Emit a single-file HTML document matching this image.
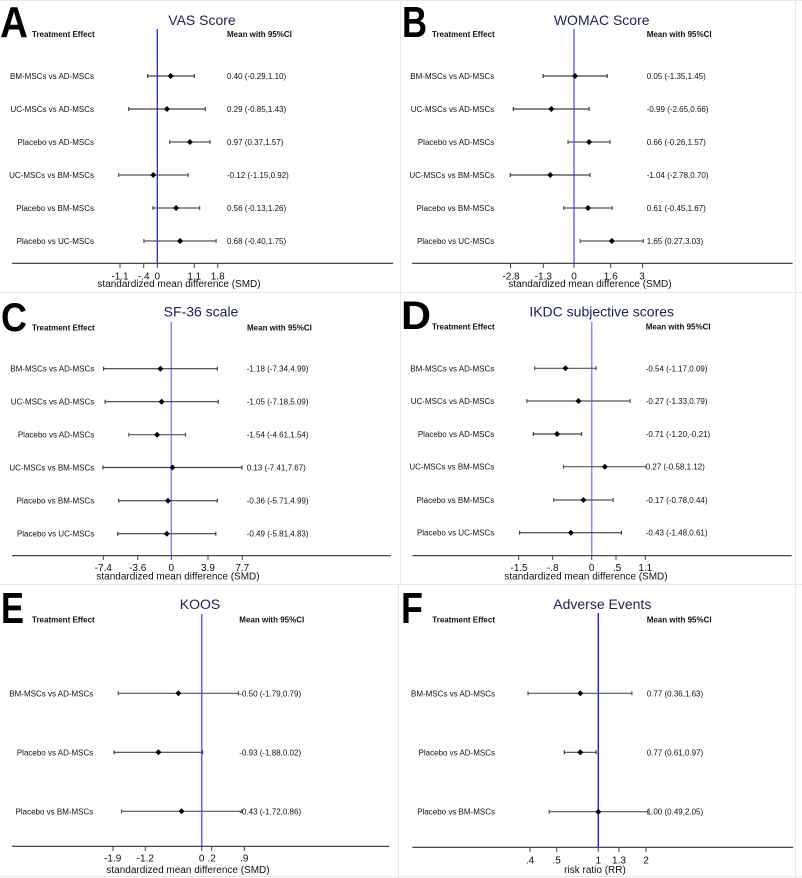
<!DOCTYPE html>
<html>
<head>
<meta charset="utf-8">
<style>
  html,body{margin:0;padding:0;background:#fff;}
  svg{display:block;}
  text{font-family:"Liberation Sans",Arial,sans-serif;}
  .big{font-weight:bold;fill:#000;}
  .ttl{font-size:14px;fill:#1b2152;text-anchor:middle;}
  .hdr{font-size:8px;font-weight:bold;fill:#111;}
  .lbl{font-size:8px;fill:#111;text-anchor:end;}
  .val{font-size:8px;fill:#111;}
  .tk{font-size:10px;fill:#111;text-anchor:middle;}
  .ax{font-size:10px;fill:#111;text-anchor:middle;}
  .axis{stroke:#333;stroke-width:1.2;}
  .tick{stroke:#444;stroke-width:1;}
  .ci{stroke:#555;stroke-width:1.2;fill:none;}
  .cim{stroke:#4d3a3e;stroke-width:1.2;fill:none;}
  .sep{stroke:#e3eaec;stroke-width:1;}
</style>
</head>
<body>
<svg width="802" height="878" viewBox="0 0 802 878" xmlns="http://www.w3.org/2000/svg">
<rect x="0" y="0" width="802" height="878" fill="#fff"/>

<!-- separators -->
<line class="sep" x1="0" y1="0.5" x2="802" y2="0.5"/>
<line class="sep" x1="400.5" y1="0" x2="400.5" y2="585"/>
<line class="sep" x1="398.5" y1="585" x2="398.5" y2="878"/>
<line class="sep" x1="0" y1="292.5" x2="802" y2="292.5"/>
<line class="sep" x1="0" y1="584.5" x2="802" y2="584.5"/>
<line class="sep" x1="0" y1="876.5" x2="802" y2="876.5"/>
<line class="sep" x1="795.5" y1="0" x2="795.5" y2="878"/>

<!-- ================= PANEL A ================= -->
<text class="big" x="0" y="37" font-size="44" textLength="28" lengthAdjust="spacingAndGlyphs">A</text>
<text class="ttl" x="202" y="25">VAS Score</text>
<text class="hdr" x="32" y="37">Treatment Effect</text>
<text class="hdr" x="227" y="37">Mean with 95%CI</text>
<line x1="157.3" y1="29" x2="157.3" y2="263.3" stroke="#2424ee" stroke-width="1.3"/>
<g class="lbl">
<text class="lbl" x="94" y="79">BM-MSCs vs AD-MSCs</text>
<text class="lbl" x="94" y="112">UC-MSCs vs AD-MSCs</text>
<text class="lbl" x="94" y="145">Placebo vs AD-MSCs</text>
<text class="lbl" x="94" y="178">UC-MSCs vs BM-MSCs</text>
<text class="lbl" x="94" y="211">Placebo vs BM-MSCs</text>
<text class="lbl" x="94" y="244">Placebo vs UC-MSCs</text>
</g>
<text class="val" x="227" y="79">0.40 (-0.29,1.10)</text>
<text class="val" x="227" y="112">0.29 (-0.85,1.43)</text>
<text class="val" x="227" y="145">0.97 (0.37,1.57)</text>
<text class="val" x="227" y="178">-0.12 (-1.15,0.92)</text>
<text class="val" x="227" y="211">0.56 (-0.13,1.26)</text>
<text class="val" x="227" y="244">0.68 (-0.40,1.75)</text>
<g class="ci">
<path class="cim" d="M147.6,76H194.3M147.6,74V78M194.3,74V78"/>
<path class="cim" d="M128.7,109H205.3M128.7,107V111M205.3,107V111"/>
<path d="M169.7,142H210.1M169.7,140V144M210.1,140V144"/>
<path d="M118.7,175H188.2M118.7,173V177M188.2,173V177"/>
<path d="M152.9,208H199.6M152.9,206V210M199.6,206V210"/>
<path d="M143.9,241H216.1M143.9,239V243M216.1,239V243"/>
</g>
<g fill="#000">
<path d="M170.7,73L173.7,76L170.7,79L167.7,76Z"/>
<path d="M167,106L170,109L167,112L164,109Z"/>
<path d="M189.9,139L192.9,142L189.9,145L186.9,142Z"/>
<path d="M153.3,172L156.3,175L153.3,178L150.3,175Z"/>
<path d="M176.1,205L179.1,208L176.1,211L173.1,208Z"/>
<path d="M180.1,238L183.1,241L180.1,244L177.1,241Z"/>
</g>
<line class="axis" x1="12" y1="263.3" x2="393" y2="263.3"/>
<path class="tick" d="M120,263.3V268M143.7,263.3V268M157.3,263.3V268M194.3,263.3V268M217.7,263.3V268"/>
<text class="tk" x="120" y="279.3">-1.1</text>
<text class="tk" x="143.7" y="279.3">-.4</text>
<text class="tk" x="157.3" y="279.3">0</text>
<text class="tk" x="194.3" y="279.3">1.1</text>
<text class="tk" x="217.7" y="279.3">1.8</text>
<text class="ax" x="179" y="287">standardized mean difference (SMD)</text>

<!-- ================= PANEL B ================= -->
<text class="big" x="402" y="37" font-size="44" textLength="25" lengthAdjust="spacingAndGlyphs">B</text>
<text class="ttl" x="601.7" y="25">WOMAC Score</text>
<text class="hdr" x="432" y="37">Treatment Effect</text>
<text class="hdr" x="646.7" y="37">Mean with 95%CI</text>
<line x1="574" y1="29" x2="574" y2="263.3" stroke="#6b6bff" stroke-width="1.5"/>
<text class="lbl" x="494.3" y="79">BM-MSCs vs AD-MSCs</text>
<text class="lbl" x="494.3" y="112">UC-MSCs vs AD-MSCs</text>
<text class="lbl" x="494.3" y="145">Placebo vs AD-MSCs</text>
<text class="lbl" x="494.3" y="178">UC-MSCs vs BM-MSCs</text>
<text class="lbl" x="494.3" y="211">Placebo vs BM-MSCs</text>
<text class="lbl" x="494.3" y="244">Placebo vs UC-MSCs</text>
<text class="val" x="646.7" y="79">0.05 (-1.35,1.45)</text>
<text class="val" x="646.7" y="112">-0.99 (-2.65,0.66)</text>
<text class="val" x="646.7" y="145">0.66 (-0.26,1.57)</text>
<text class="val" x="646.7" y="178">-1.04 (-2.78,0.70)</text>
<text class="val" x="646.7" y="211">0.61 (-0.45,1.67)</text>
<text class="val" x="646.7" y="244">1.65 (0.27,3.03)</text>
<g class="ci">
<path class="cim" d="M543.1,76H607.2M543.1,74V78M607.2,74V78"/>
<path class="cim" d="M513.3,109H589.1M513.3,107V111M589.1,107V111"/>
<path d="M568,142H610M568,140V144M610,140V144"/>
<path class="cim" d="M510.3,175H590M510.3,173V177M590,173V177"/>
<path d="M563.7,208H612.2M563.7,206V210M612.2,206V210"/>
<path d="M580.2,241H643.4M580.2,239V243M643.4,239V243"/>
</g>
<g fill="#000">
<path d="M575.1,73L578.1,76L575.1,79L572.1,76Z"/>
<path d="M551.3,106L554.3,109L551.3,112L548.3,109Z"/>
<path d="M589.1,139L592.1,142L589.1,145L586.1,142Z"/>
<path d="M550.2,172L553.2,175L550.2,178L547.2,175Z"/>
<path d="M588,205L591,208L588,211L585,208Z"/>
<path d="M611.8,238L614.8,241L611.8,244L608.8,241Z"/>
</g>
<line class="axis" x1="412" y1="263.3" x2="792.7" y2="263.3"/>
<path class="tick" d="M510.5,263.3V268M543.3,263.3V268M574,263.3V268M610.7,263.3V268M642.5,263.3V268"/>
<text class="tk" x="511" y="279.3">-2.8</text>
<text class="tk" x="543.3" y="279.3">-1.3</text>
<text class="tk" x="574" y="279.3">0</text>
<text class="tk" x="610.7" y="279.3">1.6</text>
<text class="tk" x="642" y="279.3">3</text>
<text class="ax" x="590" y="287">standardized mean difference (SMD)</text>

<!-- ================= PANEL C ================= -->
<text class="big" x="1" y="331" font-size="40" textLength="26" lengthAdjust="spacingAndGlyphs">C</text>
<text class="ttl" x="201" y="316.7">SF-36 scale</text>
<text class="hdr" x="32" y="330.3">Treatment Effect</text>
<text class="hdr" x="247" y="330.3">Mean with 95%CI</text>
<line x1="171.3" y1="321.7" x2="171.3" y2="555.7" stroke="#7a7aff" stroke-width="1.3"/>
<text class="lbl" x="94.3" y="371.7">BM-MSCs vs AD-MSCs</text>
<text class="lbl" x="94.3" y="404.7">UC-MSCs vs AD-MSCs</text>
<text class="lbl" x="94.3" y="437.7">Placebo vs AD-MSCs</text>
<text class="lbl" x="94.3" y="470.5">UC-MSCs vs BM-MSCs</text>
<text class="lbl" x="94.3" y="503.7">Placebo vs BM-MSCs</text>
<text class="lbl" x="94.3" y="536.7">Placebo vs UC-MSCs</text>
<text class="val" x="246.7" y="371.7">-1.18 (-7.34,4.99)</text>
<text class="val" x="246.7" y="404.7">-1.05 (-7.18,5.09)</text>
<text class="val" x="246.7" y="437.7">-1.54 (-4.61,1.54)</text>
<text class="val" x="246.7" y="470.5">0.13 (-7.41,7.67)</text>
<text class="val" x="246.7" y="503.7">-0.36 (-5.71,4.99)</text>
<text class="val" x="246.7" y="536.7">-0.49 (-5.81,4.83)</text>
<g class="cim">
<path d="M103.6,368.7H217.3M103.6,366.7V370.7M217.3,366.7V370.7"/>
<path d="M105.1,401.7H218.2M105.1,399.7V403.7M218.2,399.7V403.7"/>
<path class="ci" d="M128.8,434.7H185.5M128.8,432.7V436.7M185.5,432.7V436.7"/>
<path d="M103,467.5H242M103,465.5V469.5M242,465.5V469.5"/>
<path d="M118.7,500.7H217.3M118.7,498.7V502.7M217.3,498.7V502.7"/>
<path d="M117.7,533.7H215.8M117.7,531.7V535.7M215.8,531.7V535.7"/>
</g>
<g fill="#000">
<path d="M160.4,365.7L163.4,368.7L160.4,371.7L157.4,368.7Z"/>
<path d="M161.6,398.7L164.6,401.7L161.6,404.7L158.6,401.7Z"/>
<path d="M157.1,431.7L160.1,434.7L157.1,437.7L154.1,434.7Z"/>
<path d="M172.5,464.5L175.5,467.5L172.5,470.5L169.5,467.5Z"/>
<path d="M168,497.7L171,500.7L168,503.7L165,500.7Z"/>
<path d="M166.8,530.7L169.8,533.7L166.8,536.7L163.8,533.7Z"/>
</g>
<line class="axis" x1="12" y1="555.7" x2="390.7" y2="555.7"/>
<path class="tick" d="M103.3,555.7V560M137.7,555.7V560M171.3,555.7V560M208,555.7V560M242.3,555.7V560"/>
<text class="tk" x="103.3" y="571">-7.4</text>
<text class="tk" x="137.7" y="571">-3.6</text>
<text class="tk" x="171.3" y="571">0</text>
<text class="tk" x="208" y="571">3.9</text>
<text class="tk" x="242.3" y="571">7.7</text>
<text class="ax" x="178" y="579.5">standardized mean difference (SMD)</text>

<!-- ================= PANEL D ================= -->
<text class="big" x="401" y="329" font-size="40" textLength="30" lengthAdjust="spacingAndGlyphs">D</text>
<text class="ttl" x="601.7" y="316.7">IKDC subjective scores</text>
<text class="hdr" x="432" y="329.7">Treatment Effect</text>
<text class="hdr" x="645.7" y="329.7">Mean with 95%CI</text>
<line x1="591.7" y1="321.7" x2="591.7" y2="555.7" stroke="#8a8aff" stroke-width="1.5"/>
<text class="lbl" x="494.3" y="371.3">BM-MSCs vs AD-MSCs</text>
<text class="lbl" x="494.3" y="404">UC-MSCs vs AD-MSCs</text>
<text class="lbl" x="494.3" y="437">Placebo vs AD-MSCs</text>
<text class="lbl" x="494.3" y="469.7">UC-MSCs vs BM-MSCs</text>
<text class="lbl" x="494.3" y="503">Placebo vs BM-MSCs</text>
<text class="lbl" x="494.3" y="535.7">Placebo vs UC-MSCs</text>
<text class="val" x="645.7" y="371.3">-0.54 (-1.17,0.09)</text>
<text class="val" x="645.7" y="404">-0.27 (-1.33,0.79)</text>
<text class="val" x="645.7" y="437">-0.71 (-1.20,-0.21)</text>
<text class="val" x="645.7" y="469.7">0.27 (-0.58,1.12)</text>
<text class="val" x="645.7" y="503">-0.17 (-0.78,0.44)</text>
<text class="val" x="645.7" y="535.7">-0.43 (-1.48,0.61)</text>
<g class="ci">
<path d="M534.7,368.3H596.1M534.7,366.3V370.3M596.1,366.3V370.3"/>
<path d="M526.9,401H630.2M526.9,399V403M630.2,399V403"/>
<path class="cim" d="M533.3,434H581.5M533.3,432V436M581.5,432V436"/>
<path d="M563.5,466.7H646.2M563.5,464.7V468.7M646.2,464.7V468.7"/>
<path d="M553.7,500H613.1M553.7,498V502M613.1,498V502"/>
<path class="cim" d="M519.6,532.7H621.4M519.6,530.7V534.7M621.4,530.7V534.7"/>
</g>
<g fill="#000">
<path d="M565.4,365.3L568.4,368.3L565.4,371.3L562.4,368.3Z"/>
<path d="M578.5,398L581.5,401L578.5,404L575.5,401Z"/>
<path d="M557.1,431L560.1,434L557.1,437L554.1,434Z"/>
<path d="M604.8,463.7L607.8,466.7L604.8,469.7L601.8,466.7Z"/>
<path d="M583.4,497L586.4,500L583.4,503L580.4,500Z"/>
<path d="M570.8,529.7L573.8,532.7L570.8,535.7L567.8,532.7Z"/>
</g>
<line class="axis" x1="412.3" y1="555.7" x2="791.7" y2="555.7"/>
<path class="tick" d="M518.7,555.7V560M552.7,555.7V560M591.7,555.7V560M616,555.7V560M645.3,555.7V560"/>
<text class="tk" x="519" y="571">-1.5</text>
<text class="tk" x="552.7" y="571">-.8</text>
<text class="tk" x="591.7" y="571">0</text>
<text class="tk" x="617" y="571">.5</text>
<text class="tk" x="645.3" y="571">1.1</text>
<text class="ax" x="586" y="579.5">standardized mean difference (SMD)</text>

<!-- ================= PANEL E ================= -->
<text class="big" x="1" y="623" font-size="44" textLength="23" lengthAdjust="spacingAndGlyphs">E</text>
<text class="ttl" x="200" y="609">KOOS</text>
<text class="hdr" x="32" y="622.7">Treatment Effect</text>
<text class="hdr" x="239.3" y="622.7">Mean with 95%CI</text>
<line x1="201.7" y1="614" x2="201.7" y2="846.3" stroke="#6b5bff" stroke-width="1.5"/>
<text class="lbl" x="93.3" y="696.3">BM-MSCs vs AD-MSCs</text>
<text class="lbl" x="93.3" y="755.3">Placebo vs AD-MSCs</text>
<text class="lbl" x="93.3" y="814.3">Placebo vs BM-MSCs</text>
<text class="val" x="239.3" y="696.3">-0.50 (-1.79,0.79)</text>
<text class="val" x="239.3" y="755.3">-0.93 (-1.88,0.02)</text>
<text class="val" x="239.3" y="814.3">-0.43 (-1.72,0.86)</text>
<g class="ci">
<path d="M118.3,693.3H238.5M118.3,691.3V695.3M238.5,691.3V695.3"/>
<path class="cim" d="M114.1,752.3H202.6M114.1,750.3V754.3M202.6,750.3V754.3"/>
<path d="M121.5,811.3H241.8M121.5,809.3V813.3M241.8,809.3V813.3"/>
</g>
<g fill="#000">
<path d="M178.4,690.3L181.4,693.3L178.4,696.3L175.4,693.3Z"/>
<path d="M158.4,749.3L161.4,752.3L158.4,755.3L155.4,752.3Z"/>
<path d="M181.5,808.3L184.5,811.3L181.5,814.3L178.5,811.3Z"/>
</g>
<line class="axis" x1="12" y1="846.3" x2="389.3" y2="846.3"/>
<path class="tick" d="M113,846.3V851M145.3,846.3V851M201.7,846.3V851M211.7,846.3V851M244.3,846.3V851"/>
<text class="tk" x="112.7" y="861.3">-1.9</text>
<text class="tk" x="145.3" y="861.3">-1.2</text>
<text class="tk" x="201.7" y="861.3">0</text>
<text class="tk" x="211.7" y="861.3">.2</text>
<text class="tk" x="244.3" y="861.3">.9</text>
<text class="ax" x="188" y="873">standardized mean difference (SMD)</text>

<!-- ================= PANEL F ================= -->
<text class="big" x="401" y="623" font-size="44" textLength="22" lengthAdjust="spacingAndGlyphs">F</text>
<text class="ttl" x="602.3" y="609">Adverse Events</text>
<text class="hdr" x="432.3" y="622.7">Treatment Effect</text>
<text class="hdr" x="646.7" y="622.7">Mean with 95%CI</text>
<line x1="598.3" y1="613" x2="598.3" y2="847.3" stroke="#1a1aff" stroke-width="1.4"/>
<text class="lbl" x="495" y="696.3">BM-MSCs vs AD-MSCs</text>
<text class="lbl" x="495" y="755.3">Placebo vs AD-MSCs</text>
<text class="lbl" x="495" y="814.7">Placebo vs BM-MSCs</text>
<text class="val" x="646.7" y="696.3">0.77 (0.36,1.63)</text>
<text class="val" x="646.7" y="755.3">0.77 (0.61,0.97)</text>
<text class="val" x="646.7" y="814.7">1.00 (0.49,2.05)</text>
<g class="ci">
<path d="M528,693.3H631.9M528,691.3V695.3M631.9,691.3V695.3"/>
<path class="cim" d="M564.3,752.3H596.2M564.3,750.3V754.3M596.2,750.3V754.3"/>
<path d="M549.2,811.7H647.7M549.2,809.7V813.7M647.7,809.7V813.7"/>
</g>
<g fill="#000">
<path d="M580.3,690.3L583.3,693.3L580.3,696.3L577.3,693.3Z"/>
<path d="M580.3,749.3L583.3,752.3L580.3,755.3L577.3,752.3Z"/>
<path d="M598.3,808.7L601.3,811.7L598.3,814.7L595.3,811.7Z"/>
</g>
<line class="axis" x1="412.3" y1="847.3" x2="793.3" y2="847.3"/>
<path class="tick" d="M530,847.3V852M556.7,847.3V852M598.3,847.3V852M619,847.3V852M646,847.3V852"/>
<text class="tk" x="530" y="863.5">.4</text>
<text class="tk" x="556.7" y="863.5">.5</text>
<text class="tk" x="598.3" y="863.5">1</text>
<text class="tk" x="619" y="863.5">1.3</text>
<text class="tk" x="646" y="863.5">2</text>
<text class="ax" x="595" y="873">risk ratio (RR)</text>
</svg>
</body>
</html>
